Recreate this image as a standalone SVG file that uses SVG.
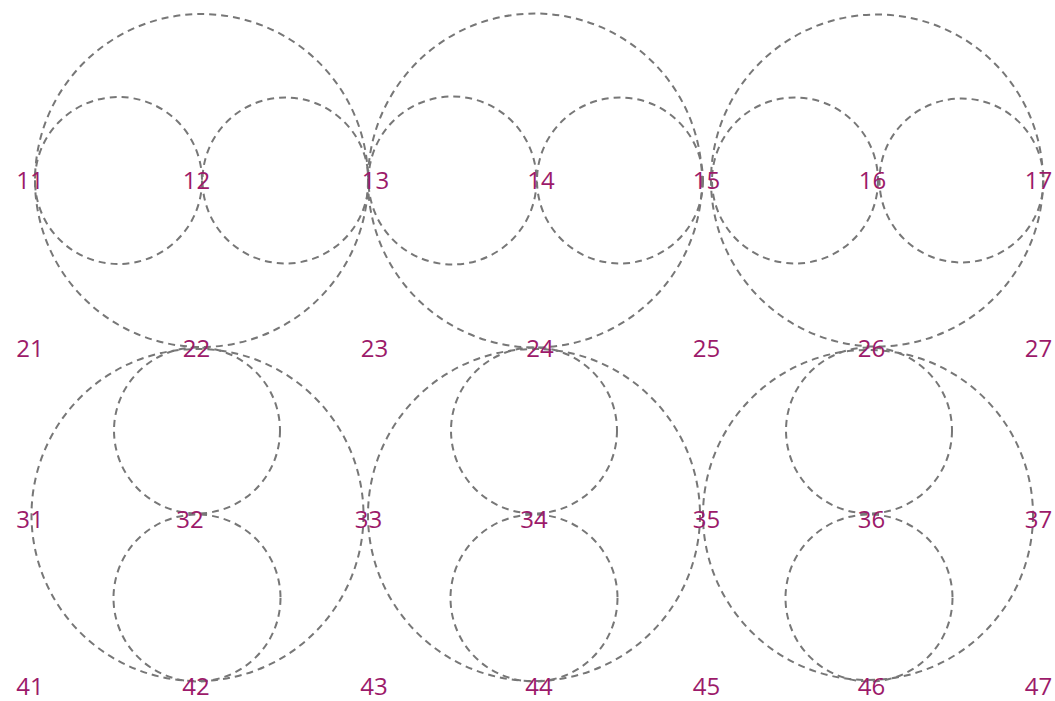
<svg xmlns="http://www.w3.org/2000/svg" width="1055" height="701" viewBox="0 0 1055 701">
<style>
.c{fill:none;stroke:#777;stroke-width:2;stroke-dasharray:7 5}
.t{font-family:"Open Sans","Noto Sans","DejaVu Sans",sans-serif;font-size:24px;fill:#9c1a6a;text-anchor:middle}
</style>
<rect width="1055" height="701" fill="#fff"/>
<g id="circles">
<g id="top-1"><circle class="c" cx="201.5" cy="180.5" r="166.5"/><circle class="c" cx="118.5" cy="180.5" r="83.5"/><circle class="c" cx="285.5" cy="180.5" r="83"/></g>
<g id="top-2"><circle class="c" cx="535" cy="180.5" r="167"/><circle class="c" cx="452.5" cy="180.5" r="84"/><circle class="c" cx="620" cy="180.5" r="83"/></g>
<g id="top-3"><circle class="c" cx="877" cy="180.5" r="166"/><circle class="c" cx="795" cy="180.5" r="83"/><circle class="c" cx="961.5" cy="180.5" r="82"/></g>
<g id="bottom-1"><circle class="c" cx="197.5" cy="515" r="166"/><circle class="c" cx="197" cy="430.5" r="83"/><circle class="c" cx="197" cy="598" r="83.5"/></g>
<g id="bottom-2"><circle class="c" cx="534" cy="515" r="166"/><circle class="c" cx="534" cy="430.5" r="83"/><circle class="c" cx="534" cy="598" r="83.5"/></g>
<g id="bottom-3"><circle class="c" cx="868" cy="515" r="165"/><circle class="c" cx="869" cy="430.5" r="83"/><circle class="c" cx="869" cy="598" r="83.5"/></g>
</g>
<g id="labels">
<g id="row1"><text class="t" x="30" y="189">11</text><text class="t" x="196.5" y="189">12</text><text class="t" x="375.5" y="189">13</text><text class="t" x="541" y="189">14</text><text class="t" x="706.5" y="189">15</text><text class="t" x="872.5" y="189">16</text><text class="t" x="1038.5" y="189">17</text></g>
<g id="row2"><text class="t" x="30" y="357">21</text><text class="t" x="196.5" y="357">22</text><text class="t" x="374.5" y="357">23</text><text class="t" x="540" y="357">24</text><text class="t" x="706.5" y="357">25</text><text class="t" x="871.5" y="357">26</text><text class="t" x="1038.5" y="357">27</text></g>
<g id="row3"><text class="t" x="30" y="528">31</text><text class="t" x="190" y="528">32</text><text class="t" x="368.5" y="528">33</text><text class="t" x="534" y="528">34</text><text class="t" x="706.5" y="528">35</text><text class="t" x="871.5" y="528">36</text><text class="t" x="1038.5" y="528">37</text></g>
<g id="row4"><text class="t" x="30" y="695">41</text><text class="t" x="196" y="695">42</text><text class="t" x="374" y="695">43</text><text class="t" x="539" y="695">44</text><text class="t" x="706.5" y="695">45</text><text class="t" x="871.5" y="695">46</text><text class="t" x="1038.5" y="695">47</text></g>
</g>
</svg>
